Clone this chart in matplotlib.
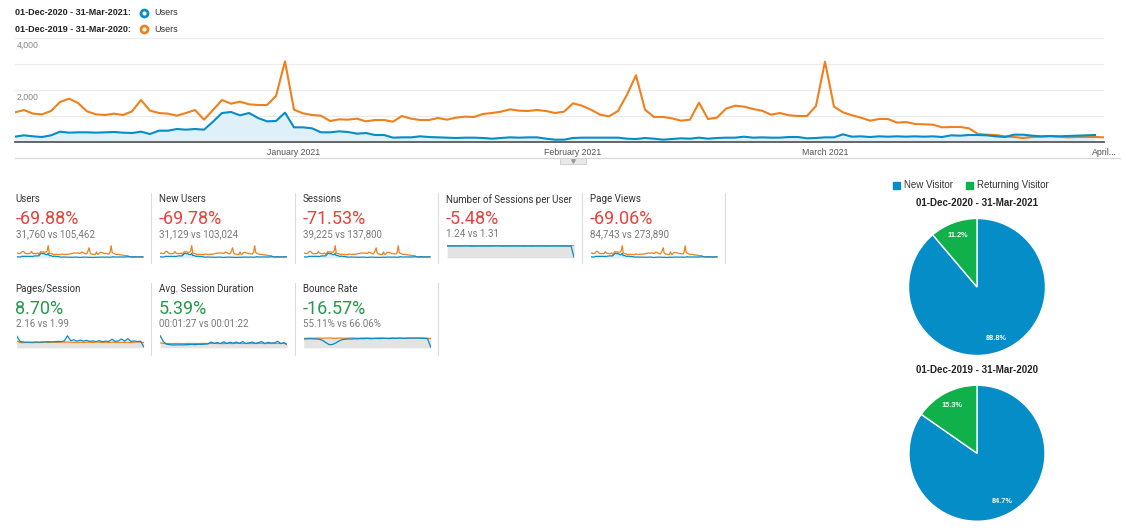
import numpy as np
import matplotlib
matplotlib.use("Agg")
import matplotlib.pyplot as plt
from matplotlib.patches import Rectangle

plt.rcParams['font.family'] = ['Liberation Sans', 'DejaVu Sans']

# ---------------- data ----------------
users_2021 = [205, 256, 218, 192, 256, 397, 359, 372, 372, 359, 372, 385, 359, 346, 397, 308,
              436, 436, 500, 474, 500, 474, 782, 1115, 1154, 1026, 1115, 923, 795, 808, 1128,
              564, 564, 526, 372, 372, 410, 385, 321, 346, 269, 269, 167, 179, 179, 218, 192,
              179, 167, 154, 167, 167, 154, 128, 154, 179, 167, 179, 179, 128, 90, 90, 154, 167,
              167, 167, 167, 167, 128, 115, 154, 128, 90, 115, 141, 128, 167, 128, 154, 167, 167,
              205, 167, 179, 167, 167, 192, 192, 141, 154, 179, 179, 295, 205,
              218, 192, 218, 205, 218, 205, 218, 205, 218, 192, 256, 244, 269, 269, 256, 218,
              192, 282, 282, 244, 218, 231, 218, 231, 244, 256, 269]
users_2020 = [1141, 1231, 1090, 1064, 1192, 1538, 1667, 1500, 1179, 1064, 1038, 1090, 1038, 1179,
              1615, 1205, 1115, 1090, 1013, 1115, 1231, 859, 1231, 1615, 1474, 1551, 1449, 1423,
              1423, 1769, 3102,
              1244, 1103, 1038, 1013, 808, 872, 859, 897, 795, 846, 846, 782, 1000, 897, 846, 846,
              923, 859, 936, 974, 962, 1077, 1115, 1167, 1256, 1205, 1192, 1231, 1192, 1115, 1167,
              1487, 1397,
              1244, 1051, 987, 1192, 1820, 2564, 1244, 962, 962, 910, 820, 859, 1513, 885, 936,
              1282, 1397, 1359, 1269, 1205, 1051, 1115, 1026, 1000, 1000, 1385, 3090, 1359, 1141,
              1026,
              936, 820, 885, 885, 744, 769, 692, 679, 667, 564, 577, 577, 526, 308, 282, 269, 218,
              192, 154, 192, 205, 218, 205, 179, 192, 192, 192, 179]

month_ticks = [31, 62, 90, 121]
month_labels = ['January 2021', 'February 2021', 'March 2021', 'April...']
y_labels = [2000, 4000]

range_now = '01-Dec-2020 - 31-Mar-2021'
range_prev = '01-Dec-2019 - 31-Mar-2020'

metric_names = ['Users', 'New Users', 'Sessions', 'Number of Sessions per User', 'Page Views',
                'Pages/Session', 'Avg. Session Duration', 'Bounce Rate']
metric_changes = ['-69.88%', '-69.78%', '-71.53%', '-5.48%', '-69.06%', '8.70%', '5.39%', '-16.57%']
metric_compare = ['31,760 vs 105,462', '31,129 vs 103,024', '39,225 vs 137,800', '1.24 vs 1.31',
                  '84,743 vs 273,890', '2.16 vs 1.99', '00:01:27 vs 00:01:22', '55.11% vs 66.06%']
metric_good = [False, False, False, False, False, True, True, True]

spu_2021 = [1.25, 1.24, 1.25, 1.25, 1.24, 1.25, 1.26, 1.25, 1.24, 1.25, 1.25, 1.24, 1.25, 1.24,
            1.25, 1.25, 1.26, 1.24, 1.25, 1.24, 1.25, 1.25, 1.24, 1.25, 1.24, 1.25, 1.25, 1.24,
            1.25, 1.24, 1.25, 1.24, 1.25, 1.25, 1.24, 1.25, 1.24, 1.25, 1.24, 1.25, 0.0]
spu_2020 = [1.30, 1.31, 1.30, 1.31, 1.31, 1.30, 1.32, 1.31, 1.30, 1.31, 1.31, 1.30, 1.31, 1.31,
            1.30, 1.31, 1.32, 1.31, 1.30, 1.31, 1.31, 1.30, 1.31, 1.31, 1.30, 1.31, 1.31, 1.30,
            1.31, 1.31, 1.30, 1.31, 1.31, 1.30, 1.31, 1.31, 1.30, 1.31, 1.31, 1.30, 1.31]
pps_2021 = [4.5, 2.4, 2.2, 2.1, 2.1, 2.1, 2.2, 2.1, 2.2, 2.2, 2.3, 2.2, 2.3, 2.4, 2.3, 2.6, 4.5,
            2.7, 3.0, 2.5, 2.9, 2.5, 2.8, 2.4, 2.6, 2.3, 2.7, 2.3, 2.5, 2.4, 3.2, 2.4, 2.6, 3.3,
            2.5, 3.4, 2.4, 2.6, 2.3, 2.5, 0.4]
pps_2020 = [2.6, 2.0, 1.9, 2.0, 2.0, 1.9, 2.0, 2.0, 2.0, 2.1, 2.0, 2.1, 2.1, 2.0, 2.2, 2.1, 2.2,
            2.1, 2.1, 2.0, 2.1, 2.0, 2.1, 2.1, 2.0, 2.2, 2.1, 2.0, 2.1, 2.0, 2.1, 2.1, 2.0, 2.1,
            2.0, 2.1, 2.0, 2.1, 2.2, 2.1, 2.0]
dur_2021 = [230, 120, 70, 60, 55, 55, 58, 55, 60, 62, 65, 60, 68, 65, 70, 75, 110, 85, 100, 80,
            115, 85, 105, 90, 110, 85, 120, 80, 95, 110, 85, 100, 120, 80, 105, 90, 95, 125, 80,
            100, 60]
dur_2020 = [95, 85, 80, 82, 80, 84, 82, 80, 83, 85, 82, 84, 80, 83, 85, 82, 84, 86, 82, 84, 80,
            85, 83, 82, 86, 84, 82, 85, 83, 84, 82, 86, 84, 83, 85, 82, 84, 83, 86, 84, 70]
bounce_2021 = [60, 61, 62, 61, 60, 58, 50, 35, 22, 22, 32, 45, 55, 58, 60, 59, 62, 61, 63, 62,
               64, 62, 63, 64, 63, 65, 64, 63, 65, 64, 66, 65, 64, 66, 65, 67, 66, 65, 64, 63, 5]
bounce_2020 = [64, 65, 66, 65, 66, 66, 65, 66, 67, 66, 65, 66, 66, 65, 66, 67, 66, 65, 66, 67,
               66, 66, 65, 66, 67, 66, 65, 66, 67, 66, 66, 65, 66, 67, 66, 65, 66, 67, 66, 65, 63]

visitor_labels = ['New Visitor', 'Returning Visitor']
visitors_2021 = [88.8, 11.2]
visitors_2020 = [84.7, 15.3]

# ---------------- styles ----------------
BLUE = '#058dc7'
ORANGE = '#f0801c'
BLUE_FILL = '#e0f0f8'
GREEN = '#10b04a'
RED_TXT = '#e2453c'
GREEN_TXT = '#26994c'

W, H = 1126, 532
fig = plt.figure(figsize=(W / 100, H / 100), dpi=100)
fig.patch.set_facecolor('white')

bg = fig.add_axes([0, 0, 1, 1])
bg.set_xlim(0, W)
bg.set_ylim(H, 0)
bg.axis('off')
bg.patch.set_alpha(0)


def px_axes(x0, y0, x1, y1):
    a = fig.add_axes([x0 / W, 1 - y1 / H, (x1 - x0) / W, (y1 - y0) / H])
    a.patch.set_alpha(0)
    return a


# ---------------- legend (top) ----------------
for yy, lab, col in [(12.7, range_now, BLUE), (29.3, range_prev, ORANGE)]:
    bg.text(15, yy, lab + ':', fontsize=6.5, fontweight='bold', color='#222', va='center')
    bg.plot(144, yy, marker='o', ms=6, mfc=col, mec=col)
    bg.plot(144, yy, marker='o', ms=2, mfc='white', mec='white')
    bg.text(154, yy, 'Users', fontsize=6.5, color='#333', va='center')

# ---------------- main chart ----------------
ax = px_axes(15, 38, 1104, 142)
x_now = np.arange(len(users_2021))
x_prev = np.arange(len(users_2020))
ax.fill_between(x_now, users_2021, color=BLUE_FILL, lw=0, zorder=1)
ax.plot(x_prev, users_2020, color=ORANGE, lw=1.5, zorder=3, solid_joinstyle='round')
ax.plot(x_now, users_2021, color=BLUE, lw=1.5, zorder=4, solid_joinstyle='round')
ax.set_xlim(0, 121)
ax.set_ylim(0, 4000)
ax.set_yticks([1000, 2000, 3000, 4000])
ax.yaxis.grid(True, color='#ebebeb', lw=0.8)
ax.set_axisbelow(True)
ax.tick_params(axis='y', length=0, labelleft=False)
for s in ['top', 'right', 'left']:
    ax.spines[s].set_visible(False)
ax.spines['bottom'].set_color('#5a5a5a')
ax.spines['bottom'].set_linewidth(1.3)
ax.set_xticks(month_ticks)
ax.set_xticklabels(month_labels)
ax.tick_params(axis='x', length=0, pad=4, labelsize=6.3, labelcolor='#555')
for v in y_labels:
    ax.annotate(f'{v:,}', xy=(0, v), xycoords=('axes fraction', 'data'), xytext=(2, -7),
                textcoords='offset pixels', fontsize=6.3, color='#888', va='center', ha='left')

# separator under chart and small tab
bg.plot([15, 1120], [158, 158], color='#d4d4d4', lw=0.8)
bg.add_patch(Rectangle((560, 158), 26, 6, facecolor='#e9e9e9', edgecolor='#cccccc', lw=0.6))
bg.plot(573, 161, marker='v', ms=2.5, color='#999999')

# ---------------- scorecards ----------------
card_cols = [15.7, 159.2, 302.7, 446.2, 589.7]
row_y = [199.3, 289.3]
spark_blue = [users_2021, users_2021, users_2021, spu_2021, users_2021, pps_2021, dur_2021, bounce_2021]
spark_orange = [users_2020, users_2020, users_2020, spu_2020, users_2020, pps_2020, dur_2020, bounce_2020]
spark_kind = ['count', 'count', 'count', 'ratio', 'count', 'ratio', 'ratio', 'ratio']
spark_ymax = [None, None, None, 1.33, None, 4.7, 240, 85]

for i, name in enumerate(metric_names):
    row = 0 if i < 5 else 1
    col = i if i < 5 else i - 5
    x0 = card_cols[col]
    ty = row_y[row]
    bg.text(x0, ty, name, fontsize=7, color='#333', family=['Roboto', 'DejaVu Sans'], va='center')
    bg.text(x0 - 0.5, ty + 20, metric_changes[i], fontsize=13,
            color=GREEN_TXT if metric_good[i] else RED_TXT,
            family=['Roboto', 'DejaVu Sans'], va='center')
    bg.text(x0, ty + 35, metric_compare[i], fontsize=7, color='#777',
            family=['Roboto', 'DejaVu Sans'], va='center')
    sa = px_axes(x0 + 1, ty + 46, x0 + 128, ty + 58.5)
    b = spark_blue[i]
    o = spark_orange[i]
    if spark_kind[i] == 'count':
        xb = np.arange(len(b))
        xo = np.arange(len(o))
        sa.fill_between(xb, b, color=BLUE_FILL, lw=0)
        sa.plot(xo, o, color=ORANGE, lw=0.9)
        sa.plot(xb, b, color=BLUE, lw=0.9)
        sa.set_xlim(0, len(o) - 1)
        sa.set_ylim(0, max(o) * 1.03)
    else:
        xs = np.arange(len(b)) * 3
        sa.fill_between(xs, o, color='#e3e3e3', lw=0)
        sa.plot(xs, o, color=ORANGE, lw=0.9)
        sa.plot(xs, b, color=BLUE, lw=0.9)
        sa.set_xlim(0, xs[-1])
        sa.set_ylim(0, spark_ymax[i])
    sa.axis('off')

for xs_ in [151, 294.5, 437.5, 582, 725]:
    bg.plot([xs_, xs_], [193, 263], color='#dcdcdc', lw=0.8)
for xs_ in [151, 294.5, 437.5]:
    bg.plot([xs_, xs_], [283, 355], color='#dcdcdc', lw=0.8)

# ---------------- pies ----------------
bg.add_patch(Rectangle((893, 181.5), 7, 7, color=BLUE))
bg.text(904, 185, visitor_labels[0], fontsize=7, color='#333', va='center')
bg.add_patch(Rectangle((966, 181.5), 7, 7, color=GREEN))
bg.text(977, 185, visitor_labels[1], fontsize=7, color='#333', va='center')

for title, vals, ty, box in [(range_now, visitors_2021, 203, (908.5, 218.5, 1045.5, 355.5)),
                             (range_prev, visitors_2020, 370, (909, 385, 1045, 521.5))]:
    bg.text(977, ty, title, fontsize=7, fontweight='bold', color='#222', ha='center', va='center')
    pa = px_axes(*box)
    pa.pie(vals, colors=[BLUE, GREEN], startangle=90, counterclock=False,
           autopct='%.1f%%', pctdistance=0.8,
           wedgeprops=dict(edgecolor='white', linewidth=1),
           textprops=dict(color='white', fontsize=5.3, fontweight='bold'))
    pa.set_xlim(-1, 1)
    pa.set_ylim(-1, 1)
    pa.set_aspect('equal')

fig.savefig('out.png', dpi=100, facecolor='white')
